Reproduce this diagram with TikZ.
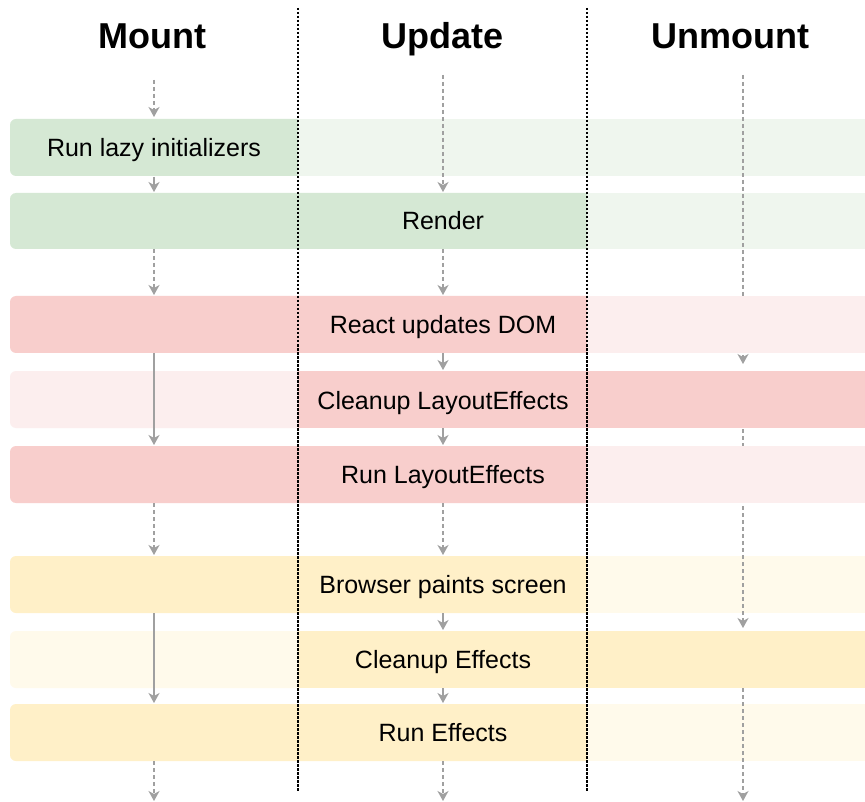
\documentclass[tikz,border=0pt]{standalone}
\usepackage{fontspec}
\setmainfont{Liberation Sans}
\usetikzlibrary{arrows.meta}

\definecolor{greenD}{HTML}{D5E8D4}
\definecolor{greenL}{HTML}{EFF6EE}
\definecolor{pinkD}{HTML}{F8CECC}
\definecolor{pinkL}{HTML}{FCEEEE}
\definecolor{yellowD}{HTML}{FFF0C8}
\definecolor{yellowL}{HTML}{FFFAEB}
\definecolor{flowgrey}{HTML}{A0A0A0}

\tikzset{
  flow/.style={draw=flowgrey, line width=1.1pt, -{Stealth[length=10pt,width=11pt,inset=3pt]}},
  dashflow/.style={flow, dash pattern=on 4pt off 3pt},
  colsep/.style={draw=black, line width=1.3pt, dash pattern=on 2.5pt off 1.5pt},
  headtext/.style={font=\fontsize{36}{40}\selectfont\bfseries, anchor=base, inner sep=0pt},
  steptext/.style={font=\fontsize{25}{30}\selectfont, anchor=base, inner sep=0pt},
}

% phase band: top, bottom, split x, left colour, right colour
\newcommand\phaseband[5]{%
  \fill[#4] (#3,#1) [rounded corners=6pt] -- (10,#1) -- (10,#2) [sharp corners] -- (#3,#2) -- cycle;
  \fill[#5] (#3,#1) rectangle (880,#2);
}

\begin{document}
\begin{tikzpicture}[x=1pt, y=-1pt]
\clip (0,0) rectangle (865,802);
\fill[white] (0,0) rectangle (865,802);

% column headings
\node[headtext] (hmount) at (152,49) {Mount};
\node[headtext] (hupdate) at (443,49) {Update};
\node[headtext] (hunmount) at (730,49) {Unmount};

% green and yellow phases
\phaseband{119}{176}{298}{greenD}{greenL}
\phaseband{193}{249}{587}{greenD}{greenL}
\phaseband{556}{613}{587}{yellowD}{yellowL}
\phaseband{631}{688}{298}{yellowL}{yellowD}
\phaseband{704}{761}{587}{yellowD}{yellowL}

% arrow end points
\coordinate (m0) at (154,80);   \coordinate (m1) at (154,117);
\coordinate (m2) at (154,177);  \coordinate (m3) at (154,192);
\coordinate (m4) at (154,249);  \coordinate (m5) at (154,295);
\coordinate (m6) at (154,353);  \coordinate (m7) at (154,445);
\coordinate (m8) at (154,503);  \coordinate (m9) at (154,555);
\coordinate (m10) at (154,613); \coordinate (m11) at (154,703);
\coordinate (m12) at (154,761); \coordinate (m13) at (154,801);

\coordinate (u0) at (443,75);   \coordinate (u1) at (443,192);
\coordinate (u2) at (443,249);  \coordinate (u3) at (443,295);
\coordinate (u4) at (443,353);  \coordinate (u5) at (443,370);
\coordinate (u6) at (443,428);  \coordinate (u7) at (443,445);
\coordinate (u8) at (443,503);  \coordinate (u9) at (443,555);
\coordinate (u10) at (443,613); \coordinate (u11) at (443,630);
\coordinate (u12) at (443,688); \coordinate (u13) at (443,703);
\coordinate (u14) at (443,761); \coordinate (u15) at (443,801);

\coordinate (n0) at (743,75);   \coordinate (n1) at (743,364);
\coordinate (n2) at (743,429);  \coordinate (n3) at (743,628);
\coordinate (n4) at (743,688);  \coordinate (n5) at (743,801);

% long flows that run behind the pink phases
\draw[dashflow] (u0) -- (u1);
\draw[dashflow] (n0) -- (n1);
\draw[dashflow] (n2) -- (n3);
\draw[dashflow] (n4) -- (n5);

% pink phases
\phaseband{296}{353}{587}{pinkD}{pinkL}
\phaseband{371}{428}{298}{pinkL}{pinkD}
\phaseband{446}{503}{587}{pinkD}{pinkL}

% column separators
\coordinate (s1t) at (298,8); \coordinate (s1b) at (298,792);
\coordinate (s2t) at (587,8); \coordinate (s2b) at (587,792);
\draw[colsep] (s1t) -- (s1b);
\draw[colsep] (s2t) -- (s2b);

% Mount flow
\draw[dashflow] (m0) -- (m1);
\draw[flow] (m2) -- (m3);
\draw[dashflow] (m4) -- (m5);
\draw[flow] (m6) -- (m7);
\draw[dashflow] (m8) -- (m9);
\draw[flow] (m10) -- (m11);
\draw[dashflow] (m12) -- (m13);

% Update flow
\draw[dashflow] (u2) -- (u3);
\draw[flow] (u4) -- (u5);
\draw[flow] (u6) -- (u7);
\draw[dashflow] (u8) -- (u9);
\draw[flow] (u10) -- (u11);
\draw[flow] (u12) -- (u13);
\draw[dashflow] (u14) -- (u15);

% step labels
\node[steptext] (s1) at (154,156.5) {Run lazy initializers};
\node[steptext] (s2) at (443,230) {Render};
\node[steptext] (s3) at (443,333.5) {React updates DOM};
\node[steptext] (s4) at (443,409) {Cleanup LayoutEffects};
\node[steptext] (s5) at (443,483.5) {Run LayoutEffects};
\node[steptext] (s6) at (443,593.5) {Browser paints screen};
\node[steptext] (s7) at (443,668.5) {Cleanup Effects};
\node[steptext] (s8) at (443,741) {Run Effects};
\end{tikzpicture}
\end{document}
